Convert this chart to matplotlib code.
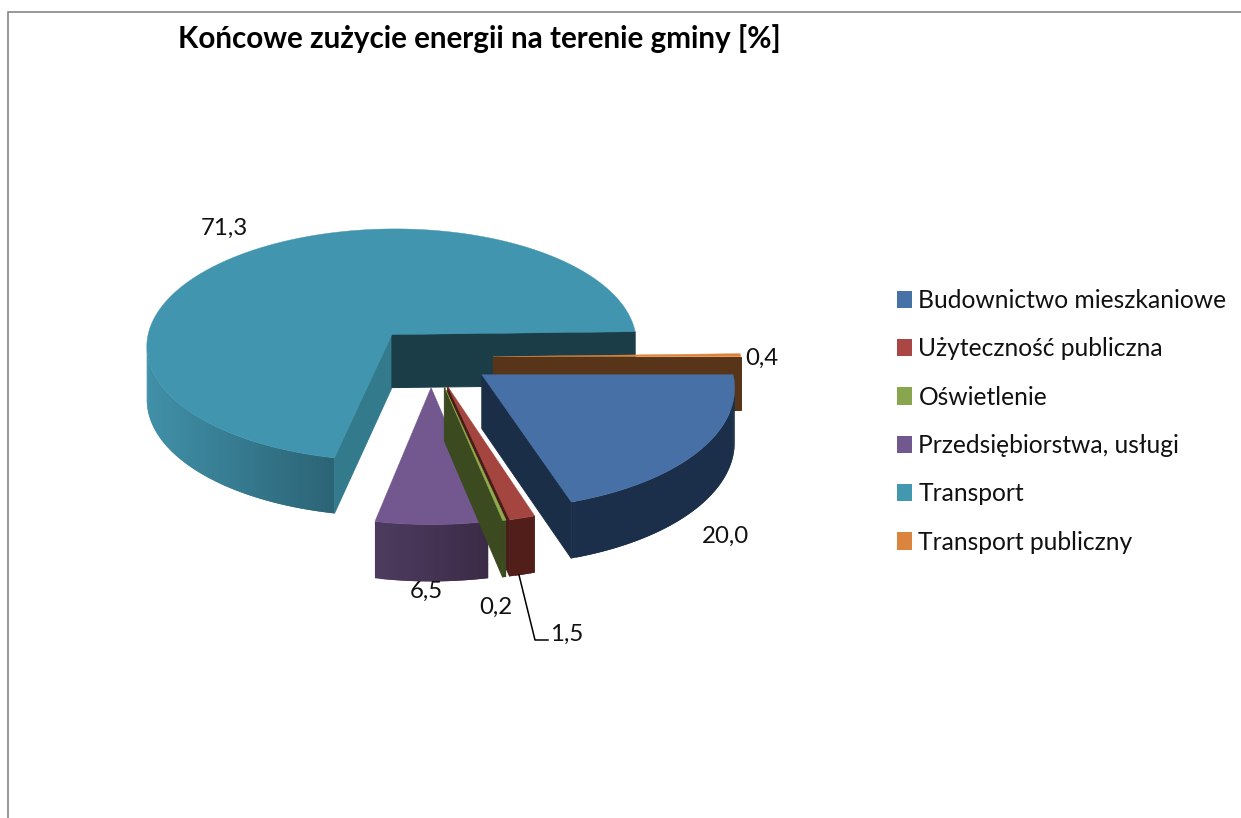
import numpy as np
import matplotlib
matplotlib.use("Agg")
import matplotlib.pyplot as plt
from matplotlib.patches import Polygon, Patch
from matplotlib.colors import to_rgb

plt.rcParams['font.family'] = ['Lato', 'DejaVu Sans']

title = "Końcowe zużycie energii na terenie gminy [%]"
categories = ["Budownictwo mieszkaniowe", "Użyteczność publiczna", "Oświetlenie",
              "Przedsiębiorstwa, usługi", "Transport", "Transport publiczny"]
values = [20.0, 1.5, 0.2, 6.5, 71.3, 0.4]
labels = ["20,0", "1,5", "0,2", "6,5", "71,3", "0,4"]

top_colors = ["#4670a6", "#a5453f", "#8fac4f", "#72588f", "#4195ae", "#dd8339"]
legend_colors = ["#4672a8", "#aa4644", "#89a54e", "#71588f", "#4198af", "#db843d"]
side_left = ["#1b2f4a", "#521e1a", "#3c4a20", "#4c3a5e", "#4090a8", "#583419"]
side_right = ["#1b2f4a", "#521e1a", "#3c4a20", "#3a2a45", "#2b6274", "#583419"]
face_a2 = ["#1a2e48", "#4a1c18", "#3c4a20", "#3a2a45", "#1a3d48", "#583419"]
face_a1 = ["#1a2e48", "#4a1c18", "#3c4a20", "#3a2a45", "#337a8c", "#583419"]
draw_order = [4, 5, 0, 3, 1, 2]

first_angle = 0.0  # degrees, start of first slice, clockwise
explode = 0.25
CX, CY, R, B, K, DEPTH = 431.0, 357.0, 248.0, 119.0, 0.09, 53.5
CAM = np.array([0.0, -1.0 / K])


def project(u, v):
    w = 1.0 / (1.0 + K * v)
    return CX + R * u * w, CY - B * v * w


def depth(v):
    return DEPTH * np.sqrt(1.0 / (1.0 + K * v))


def mix(c1, c2, f):
    a, b = np.array(to_rgb(c1)), np.array(to_rgb(c2))
    return tuple(a + (b - a) * f)


fig = plt.figure(figsize=(12.41, 8.18), dpi=100)
ax = fig.add_axes([0, 0, 1, 1])
ax.set_xlim(0, 1241)
ax.set_ylim(818, 0)
ax.axis("off")

# chart frame
ax.plot([8, 8, 1241], [818, 12, 12], color="#868686", lw=1.2, solid_joinstyle="miter")

# slice angles from values
sweep = np.array(values) / sum(values) * 360.0
starts = first_angle - np.concatenate([[0], np.cumsum(sweep)[:-1]])
ends = starts - sweep


def draw_slice(i):
    a1, a2 = np.radians(starts[i]), np.radians(ends[i])
    mid = (a1 + a2) / 2
    ou, ov = explode * np.cos(mid), explode * np.sin(mid)
    n = max(4, int(abs(np.degrees(a2 - a1))))
    ts = np.linspace(a1, a2, n + 1)
    us, vs = ou + np.cos(ts), ov + np.sin(ts)
    xs, ys = project(us, vs)

    # outer wall: each strip reaches over the previous one so no seams show
    vis = []
    for j in range(n):
        tm = (ts[j] + ts[j + 1]) / 2
        pu, pv = ou + np.cos(tm), ov + np.sin(tm)
        if np.cos(tm) * (CAM[0] - pu) + np.sin(tm) * (CAM[1] - pv) > 0:
            vis.append(j)
    if vis:
        xmin = min(xs[j] for j in vis)
        xmax = max(xs[j] for j in vis)
        for pos, j in enumerate(vis):
            f = ((xs[j] + xs[j + 1]) / 2 - xmin) / max(xmax - xmin, 1e-6)
            c = mix(side_left[i], side_right[i], f)
            k = vis[pos - 1] if pos > 0 else j
            dj, dn = depth(vs[k]), depth(vs[j + 1])
            ax.add_patch(Polygon([(xs[k], ys[k]), (xs[j], ys[j]), (xs[j + 1], ys[j + 1]),
                                  (xs[j + 1], ys[j + 1] + dn), (xs[j], ys[j] + depth(vs[j])),
                                  (xs[k], ys[k] + dj)],
                                 closed=True, facecolor=c, edgecolor="none", lw=0))

    # radial faces, only when they look towards the camera
    ax0, ay0 = project(ou, ov)
    d_apex = depth(ov)
    for ang, nrm, col, k in ((a1, (-np.sin(a1), np.cos(a1)), face_a1[i], 0),
                             (a2, (np.sin(a2), -np.cos(a2)), face_a2[i], -1)):
        if nrm[0] * (CAM[0] - ou) + nrm[1] * (CAM[1] - ov) > 0:
            ax.add_patch(Polygon([(ax0, ay0), (xs[k], ys[k]),
                                  (xs[k], ys[k] + depth(vs[k])), (ax0, ay0 + d_apex)],
                                 closed=True, facecolor=col, edgecolor=col, lw=0.7))

    # top
    pts = [(ax0, ay0)] + list(zip(xs, ys))
    ax.add_patch(Polygon(pts, closed=True, facecolor=top_colors[i],
                         edgecolor=top_colors[i], lw=0.3))


for i in draw_order:
    draw_slice(i)

# data labels
label_pos = [(725, 536), (567, 634), (496, 607), (426, 591), (224, 228), (762, 358)]
for txt, (x, y) in zip(labels, label_pos):
    ax.text(x, y, txt, ha="center", va="center", fontsize=17.3, color="#111111")

# leader line of the 1,5 label
ax.plot([519, 535, 548], [575, 640, 640], color="black", lw=1.1)

ax.text(178, 39, title, fontsize=21.3, fontweight="bold", va="center", ha="left", color="black")

handles = [Patch(facecolor=c, edgecolor="none") for c in legend_colors]
leg = ax.legend(handles, categories, loc="upper left", bbox_to_anchor=(897 / 1241, 1 - 289 / 818),
                frameon=False, fontsize=17.7, handlelength=0.61, handleheight=0.7,
                handletextpad=0.26, labelspacing=1.03, borderpad=0, borderaxespad=0,
                labelcolor="#111111")

fig.savefig("out.png", dpi=100)
